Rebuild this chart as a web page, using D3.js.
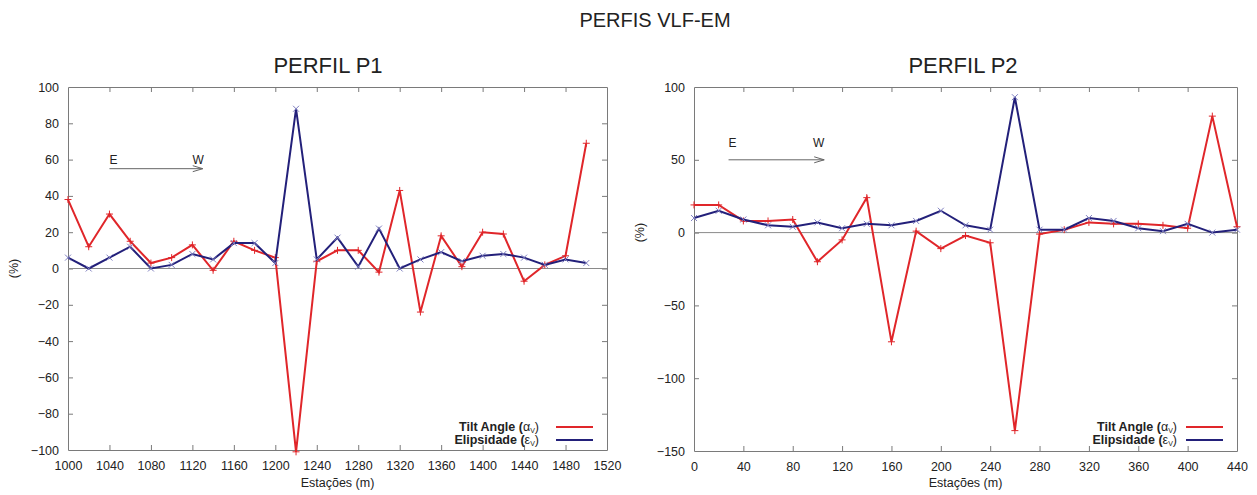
<!DOCTYPE html>
<html>
<head>
<meta charset="utf-8">
<script src="https://cdn.jsdelivr.net/npm/d3@7"></script>
<style>
  body { margin: 0; background: #fff; }
  svg text { font-family: "Liberation Sans", Arial, sans-serif; fill: #222; }
</style>
</head>
<body>
<div id="chart"></div>
<script>
// ---- data ----
var p1Stations = [1000,1020,1040,1060,1080,1100,1120,1140,1160,1180,1200,1220,1240,
                  1260,1280,1300,1320,1340,1360,1380,1400,1420,1440,1460,1480,1500];
var p1Tilt = [38,12,30,15,3,6,13,-1,15,10,6,-101,4,10,10,-2,43,-24,18,1,20,19,-7,2,7,69];
var p1Elip = [6,0,6,12,0,2,8,5,14,14,3,88,5,17,1,22,0,5,9,4,7,8,6,2,5,3];

var p2Stations = [0,20,40,60,80,100,120,140,160,180,200,220,240,260,280,300,320,340,360,380,400,420,440];
var p2Tilt = [19,19,8,8,9,-20,-5,24,-75,1,-11,-2,-7,-136,-1,2,7,6,6,5,3,80,4];
var p2Elip = [10,15,9,5,4,7,3,6,5,8,15,5,2,93,2,2,10,8,3,1,6,0,2];

var p1XTicks = [1000,1040,1080,1120,1160,1200,1240,1280,1320,1360,1400,1440,1480,1520];
var p1YTicks = [-100,-80,-60,-40,-20,0,20,40,60,80,100];
var p2XTicks = [0,40,80,120,160,200,240,280,320,360,400,440];
var p2YTicks = [-150,-100,-50,0,50,100];

// E -> W arrow annotation, in data units [x1, x2, y, labelY, wLabelX]
var p1Arrow = [1040, 1130, 55, 57.5, 1120];
var p2Arrow = [28, 105.5, 50, 59, 96.5];

var seriesNames = ["Tilt Angle", "Elipsidade"];
var seriesSymbols = ["\u03B1", "\u03B5"];
var colors = ["#e0262a", "#23207a"];
var markColors = ["#e0262a", "#7f7fc0"];

var W = 1257, H = 495;
var svg = d3.select("#chart").append("svg").attr("width", W).attr("height", H);

svg.append("text")
    .attr("x", 655).attr("y", 27)
    .attr("text-anchor", "middle")
    .style("font-size", "20px")
    .text("PERFIS VLF-EM");

function drawPanel(cfg) {
  var x = d3.scaleLinear().domain(cfg.xDomain).range([cfg.left, cfg.right]);
  var y = d3.scaleLinear().domain(cfg.yDomain).range([cfg.bottom, cfg.top]);
  var g = svg.append("g");

  // title
  g.append("text")
      .attr("x", cfg.titleX).attr("y", 73)
      .attr("text-anchor", "middle")
      .style("font-size", "22px")
      .text(cfg.title);

  // axes, gnuplot style: inward ticks mirrored on all sides
  var tick = 5;
  var xb = g.append("g").attr("transform", "translate(0," + cfg.bottom + ")")
      .call(d3.axisBottom(x).tickValues(cfg.xTicks).tickSizeInner(-tick).tickSizeOuter(0).tickPadding(11).tickFormat(d3.format("d")));
  var xt = g.append("g").attr("transform", "translate(0," + cfg.top + ")")
      .call(d3.axisTop(x).tickValues(cfg.xTicks).tickSizeInner(-tick).tickSizeOuter(0).tickFormat(""));
  var yl = g.append("g").attr("transform", "translate(" + cfg.left + ",0)")
      .call(d3.axisLeft(y).tickValues(cfg.yTicks).tickSizeInner(-tick).tickSizeOuter(0).tickPadding(9).tickFormat(d3.format("d")));
  var yr = g.append("g").attr("transform", "translate(" + cfg.right + ",0)")
      .call(d3.axisRight(y).tickValues(cfg.yTicks).tickSizeInner(-tick).tickSizeOuter(0).tickFormat(""));
  [xb, xt, yl, yr].forEach(function(a) {
    a.selectAll(".domain").attr("stroke", "#7a7a7a");
    a.selectAll(".tick line").attr("stroke", "#7a7a7a");
    a.selectAll("text").style("font-size", "12.5px").attr("fill", "#222")
        .style("font-family", "'Liberation Sans', Arial, sans-serif");
  });
  // hide end ticks that overlap the frame
  xb.selectAll(".tick line").filter(function(d) { return d === cfg.xDomain[0] || d === cfg.xDomain[1]; }).remove();
  xt.selectAll(".tick line").filter(function(d) { return d === cfg.xDomain[0] || d === cfg.xDomain[1]; }).remove();
  yl.selectAll(".tick line").filter(function(d) { return d === cfg.yDomain[0] || d === cfg.yDomain[1]; }).remove();
  yr.selectAll(".tick line").filter(function(d) { return d === cfg.yDomain[0] || d === cfg.yDomain[1]; }).remove();

  // zero line
  g.append("line")
      .attr("x1", cfg.left).attr("x2", cfg.right)
      .attr("y1", y(0)).attr("y2", y(0))
      .attr("stroke", "#8a8a8a").attr("stroke-width", 1);

  // axis labels
  g.append("text")
      .attr("x", (cfg.left + cfg.right) / 2).attr("y", 487)
      .attr("text-anchor", "middle")
      .style("font-size", "12.5px")
      .text("Estações (m)");
  g.append("text")
      .attr("transform", "translate(" + (cfg.left - 50) + "," + y(0) + ") rotate(-90)")
      .attr("text-anchor", "middle")
      .style("font-size", "12.5px")
      .text("(%)");

  // E -> W arrow
  var a = cfg.arrow;
  g.append("line")
      .attr("x1", x(a[0])).attr("x2", x(a[1]))
      .attr("y1", y(a[2])).attr("y2", y(a[2]))
      .attr("stroke", "#666").attr("stroke-width", 1);
  g.append("path")
      .attr("d", "M" + (x(a[1]) - 10) + "," + (y(a[2]) - 3) + "L" + x(a[1]) + "," + y(a[2]) + "L" + (x(a[1]) - 10) + "," + (y(a[2]) + 3))
      .attr("fill", "none").attr("stroke", "#666").attr("stroke-width", 1);
  g.append("text").attr("x", x(a[0])).attr("y", y(a[3])).style("font-size", "12px").text("E");
  g.append("text").attr("x", x(a[4])).attr("y", y(a[3])).style("font-size", "12px").text("W");

  // series
  var series = [cfg.tilt, cfg.elip];
  var line = d3.line()
      .x(function(d) { return x(d[0]); })
      .y(function(d) { return y(d[1]); });
  series.forEach(function(vals, i) {
    var pts = cfg.stations.map(function(s, j) { return [s, vals[j]]; });
    g.append("path")
        .datum(pts)
        .attr("d", line)
        .attr("fill", "none")
        .attr("stroke", colors[i])
        .attr("stroke-width", 2)
        .attr("stroke-linejoin", "miter");
    g.selectAll(".mk" + i)
        .data(pts)
        .enter()
        .append("path")
        .attr("d", function(d) {
          var px = x(d[0]), py = y(d[1]), r = 3.5;
          if (i === 0) {
            return "M" + (px - r) + "," + py + "h" + (2 * r) + "M" + px + "," + (py - r) + "v" + (2 * r);
          }
          r = 3;
          return "M" + (px - r) + "," + (py - r) + "l" + (2 * r) + "," + (2 * r) +
                 "M" + (px - r) + "," + (py + r) + "l" + (2 * r) + "," + (-2 * r);
        })
        .attr("stroke", markColors[i])
        .attr("stroke-width", 1)
        .attr("fill", "none");
  });

  // legend
  var lg = g.append("g");
  [0, 1].forEach(function(i) {
    var ly = 427 + i * 13;
    var t = lg.append("text")
        .attr("x", cfg.legendX).attr("y", ly + 4)
        .attr("text-anchor", "end")
        .style("font-family", "'Liberation Sans Narrow', 'Liberation Sans', Arial, sans-serif")
        .style("font-size", "12.5px")
        .style("font-weight", "bold");
    t.append("tspan").text(seriesNames[i] + " (");
    t.append("tspan").style("font-weight", "normal").text(seriesSymbols[i]);
    t.append("tspan").attr("dy", 2).style("font-size", "7px").style("font-weight", "normal").text("V");
    t.append("tspan").attr("dy", -2).style("font-weight", "normal").text(")");
    lg.append("line")
        .attr("x1", cfg.right - 51).attr("x2", cfg.right - 14)
        .attr("y1", ly).attr("y2", ly)
        .attr("stroke", colors[i]).attr("stroke-width", 2);
  });
}

drawPanel({
  title: "PERFIL P1", titleX: 328,
  left: 68, right: 607, top: 87, bottom: 450,
  xDomain: [1000, 1520], yDomain: [-100, 100],
  xTicks: p1XTicks, yTicks: p1YTicks,
  stations: p1Stations, tilt: p1Tilt, elip: p1Elip,
  arrow: p1Arrow, legendX: 539
});

drawPanel({
  title: "PERFIL P2", titleX: 963,
  left: 694, right: 1237, top: 87, bottom: 451,
  xDomain: [0, 440], yDomain: [-150, 100],
  xTicks: p2XTicks, yTicks: p2YTicks,
  stations: p2Stations, tilt: p2Tilt, elip: p2Elip,
  arrow: p2Arrow, legendX: 1177
});
</script>
</body>
</html>
